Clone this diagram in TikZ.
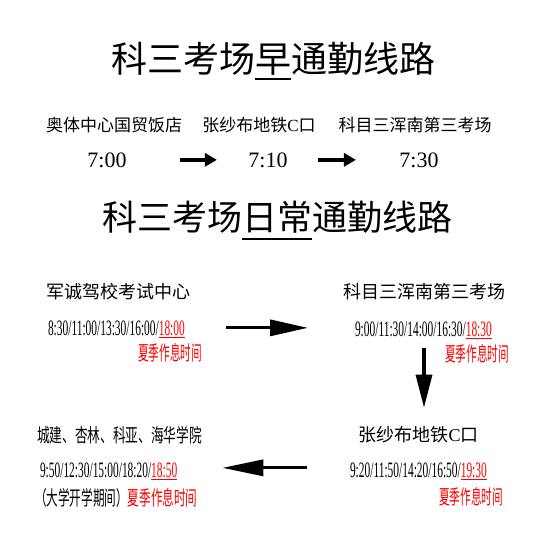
\documentclass[tikz,border=0pt]{standalone}
\usepackage{fontspec}
\usepackage{graphicx}
\setmainfont{Liberation Serif}
\newfontfamily\cjk{Noto Sans CJK SC}
\usetikzlibrary{arrows.meta}
\newcommand\myul[3]{\setbox0\hbox{#3}\rlap{\smash{\rule[-#1]{\wd0}{#2}}}\box0}
\newcommand\myred[1]{{\color{red}\myul{2.5pt}{1pt}{#1}}}
\tikzset{
  every node/.style={inner sep=0pt, outer sep=0pt},
  titlea/.style={font=\cjk\fontsize{36}{40}\selectfont},
  titleb/.style={font=\cjk\fontsize{35}{40}\selectfont},
  labA/.style={font=\cjk\fontsize{17}{20}\selectfont},
  labB/.style={font=\cjk\fontsize{18}{20}\selectfont},
  labC/.style={font=\cjk\fontsize{19}{20}\selectfont},
  tmA/.style={font=\rmfamily\fontsize{22}{24}\selectfont, anchor=base},
  tmB/.style={font=\rmfamily\fontsize{22}{24}\selectfont, anchor=base west},
  smr/.style={font=\cjk\fontsize{20}{22}\selectfont, text=red},
  toparr/.style={line width=4.5pt, -{Triangle[length=12pt,width=13pt]}},
  bigarr/.style={line width=3.3pt, -{Triangle[length=#1,width=16pt]}},
}
\begin{document}
\begin{tikzpicture}[x=1pt,y=-1pt]
\fill[white] (0,0) rectangle (538,546);
\useasboundingbox (0,0) rectangle (538,546);
% titles
\node[titlea] (t1) at (273,59) {科三考场\myul{7pt}{1.5pt}{早}通勤线路};
\node[titleb] (t2) at (277,217) {科三考场\myul{10pt}{2pt}{日常}通勤线路};
% morning row
\node[labA] (a1) at (114,125) {奥体中心国贸饭店};
\node[labA] (a2) at (259,125) {张纱布地铁{\rmfamily C}口};
\node[labA] (a3) at (415,125) {科目三浑南第三考场};
\node[tmA] (b1) at (107,167) {7:00};
\node[tmA] (b2) at (268,167) {7:10};
\node[tmA] (b3) at (419,167) {7:30};
\draw[toparr, shorten <=53.5pt, shorten >=31.5pt] (b1.east) -- (b2.west);
\draw[toparr, shorten <=30.5pt, shorten >=43.5pt] (b2.east) -- (b3.west);
% daily: top left
\node[labB] (jc) at (118.5,292) {军诚驾校考试中心};
\node[tmB] (jct) at (48,335) {\scalebox{0.52}[1]{8:30/11:00/13:30/16:00/\myred{18:00}}};
\node[smr] (jcs) at (170,353) {\scalebox{0.53}[1]{夏季作息时间}};
% top right
\node[labB] (km) at (424,292) {科目三浑南第三考场};
\node[tmB] (kmt) at (355,336) {\scalebox{0.52}[1]{9:00/11:30/14:00/16:30/\myred{18:30}}};
\node[smr] (kms) at (477,354) {\scalebox{0.53}[1]{夏季作息时间}};
% bottom left
\node[labC] (cj) at (119.5,435) {\scalebox{0.668}[1]{城建、杏林、科亚、海华学院}};
\node[tmB] (cjt) at (40,477) {\scalebox{0.52}[1]{9:50/12:30/15:00/18:20/\myred{18:50}}};
\node[smr, text=black, anchor=west] (cjs) at (35,498) {\scalebox{0.58}[1]{（大学开学期间）{\color{red}夏季作息时间}}};
% bottom right
\node[labB] (zz) at (418.5,435) {张纱布地铁{\rmfamily C}口};
\node[tmB] (zzt) at (350,477) {\scalebox{0.52}[1]{9:20/11:50/14:20/16:50/\myred{19:30}}};
\node[smr] (zzs) at (471,497) {\scalebox{0.53}[1]{夏季作息时间}};
% connectors
\draw[bigarr=38pt, shorten <=41pt, shorten >=47pt] (jct.east) -- (jct.east -| kmt.west);
\draw[bigarr=33pt, shorten <=11.7pt, shorten >=19pt] (kmt.south -| km.south) -- (zz.north -| km.south);
\draw[bigarr=41pt, shorten <=43pt, shorten >=45pt] ([yshift=2pt]zzt.west) -- ([yshift=2pt]zzt.west -| cjt.east);
\end{tikzpicture}
\end{document}
